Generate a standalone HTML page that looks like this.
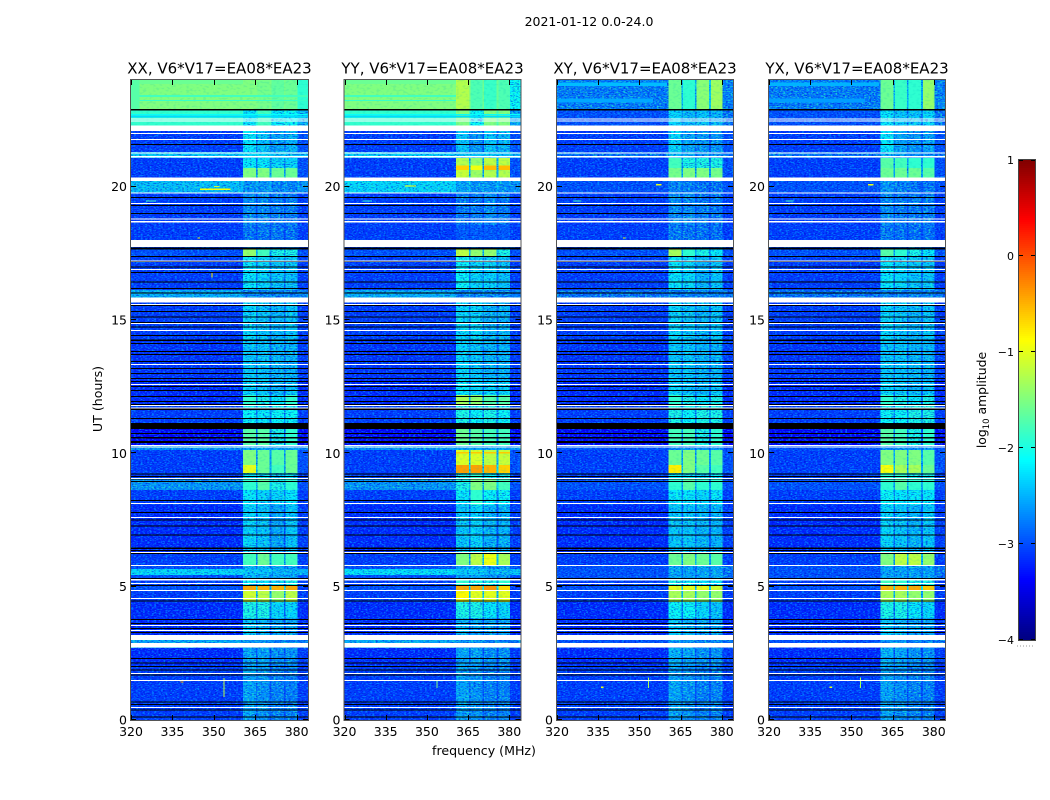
<!DOCTYPE html>
<html>
<head>
<meta charset="utf-8">
<title>2021-01-12 amplitude waterfall</title>
<style>
html,body{margin:0;padding:0;background:#fff;width:1050px;height:800px;overflow:hidden}
svg{display:block}
text{font-family:"DejaVu Sans","Liberation Sans",sans-serif;fill:#000}
</style>
</head>
<body>
<svg id="fig" xmlns="http://www.w3.org/2000/svg" width="1050" height="800" viewBox="0 0 1050 800">
<defs>
<filter id="speckLight" x="0" y="0" width="100%" height="100%" color-interpolation-filters="sRGB">
<feTurbulence type="fractalNoise" baseFrequency="0.44 0.85" numOctaves="1" seed="4"/>
<feColorMatrix type="matrix" values="0 0 0 0 0  0 0 0 0 0.72  0 0 0 0 1  7 0 0 0 -3.5"/>
</filter>
<filter id="speckDark" x="0" y="0" width="100%" height="100%" color-interpolation-filters="sRGB">
<feTurbulence type="fractalNoise" baseFrequency="0.46 0.9" numOctaves="1" seed="11"/>
<feColorMatrix type="matrix" values="0 0 0 0 0  0 0 0 0 0  0 0 0 0 0.8  7 0 0 0 -3.6"/>
</filter>
<filter id="speckGreen" x="0" y="0" width="100%" height="100%" color-interpolation-filters="sRGB">
<feTurbulence type="fractalNoise" baseFrequency="0.42 0.8" numOctaves="1" seed="23"/>
<feColorMatrix type="matrix" values="0 0 0 0 0.15  0 0 0 0 1  0 0 0 0 0.75  7 0 0 0 -3.7"/>
</filter>
<filter id="speckSoft" x="0" y="0" width="100%" height="100%" color-interpolation-filters="sRGB">
<feTurbulence type="fractalNoise" baseFrequency="0.3 0.5" numOctaves="1" seed="31"/>
<feColorMatrix type="matrix" values="0 0 0 0 0  0 0 0 0 0.75  0 0 0 0 0.75  6 0 0 0 -3"/>
</filter>
</defs>
<text x="589" y="26" font-size="12.5" text-anchor="middle">2021-01-12 0.0-24.0</text>
<text x="102" y="399" font-size="12.6" text-anchor="middle" transform="rotate(-90 102 399)">UT (hours)</text>
<text x="484" y="755" font-size="12.6" text-anchor="middle">frequency (MHz)</text>
<text x="986" y="400" font-size="12.4" text-anchor="middle" transform="rotate(-90 986 400)">log<tspan font-size="8.5" dy="3">10</tspan><tspan dy="-3"> amplitude</tspan></text>
<g id="panels"></g>
<g id="cbar"></g>
</svg>
<script>
// ---- data (hours, MHz, log10 amplitude) ----
const freqTicks = [320, 335, 350, 365, 380];
const timeTicks = [0, 5, 10, 15, 20];
const colorTicks = [1, 0, -1, -2, -3, -4];
const colorTickLabels = ['1', '0', '\u22121', '\u22122', '\u22123', '\u22124'];
const panelTitles = ['XX, V6*V17=EA08*EA23', 'YY, V6*V17=EA08*EA23', 'XY, V6*V17=EA08*EA23', 'YX, V6*V17=EA08*EA23'];
// frequency columns: background, band1, gap, band2, gap, band3, gap, band4, upper edge
const freqEdges = [320, 360.6, 365.3, 365.9, 370.2, 370.8, 375.4, 376, 380.3, 384.1];
// time blocks, newest first
const blockEdges = [24,22.91,22.28,21.3,21.08,20.7,20.33,19.76,18.56,17.7,17.4,16.13,15.83,14.25,12.75,12.19,11.81,11.06,10.31,10.13,9.56,9.26,9.08,8.63,8.06,6.3,5.78,5.66,5.44,5.33,5.03,4.88,4.43,3.83,3.19,2.7,2.06,0];
// each row: bg, band1, band2, band3, band4, edge
const xxLevels = [
[-1.5,-1.5,-1.55,-1.65,-1.6,-1.9],[-1.88,-2.2,-1.8,-2.2,-2.1,-2.5],[-3.1,-2.2,-2.4,-2.6,-2.5,-3.0],[-2.4,-2.3,-2.3,-2.4,-2.4,-2.4],
[-3.1,-2.2,-2.2,-2.3,-2.3,-3.0],[-3.1,-1.5,-1.5,-1.6,-1.6,-3.0],[-2.45,-2.7,-2.7,-2.8,-2.8,-2.7],[-3.1,-2.75,-2.75,-2.85,-2.85,-3.1],
[-3.1,-2.9,-2.9,-2.9,-2.9,-3.1],[-3.0,-1.4,-1.8,-2.0,-2.0,-3.0],[-3.1,-2.2,-2.3,-2.4,-2.4,-3.1],[-2.55,-2.8,-2.8,-2.8,-2.8,-2.8],
[-3.1,-2.3,-2.4,-2.5,-2.4,-3.1],[-3.15,-2.4,-2.4,-2.5,-2.5,-3.1],[-3.2,-2.3,-2.4,-2.5,-2.4,-3.2],[-3.2,-1.9,-2.0,-2.2,-1.9,-3.2],
[-3.1,-2.1,-2.2,-2.1,-2.1,-3.1],[-3.4,-1.7,-1.7,-2.0,-1.9,-3.4],[-2.7,-2.6,-2.6,-2.6,-2.6,-2.7],[-3.1,-1.5,-1.6,-1.7,-1.6,-3.0],
[-3.1,-1.0,-1.6,-1.8,-1.6,-3.0],[-3.1,-2.2,-2.2,-2.3,-2.2,-3.1],[-2.7,-1.9,-1.7,-2.0,-1.9,-3.0],[-3.1,-2.2,-2.3,-2.3,-2.2,-3.1],
[-3.2,-2.3,-2.4,-2.6,-2.4,-3.1],[-3.1,-1.8,-1.6,-1.8,-1.8,-3.1],[-3.0,-2.5,-2.5,-2.6,-2.6,-3.0],[-2.3,-2.4,-2.4,-2.5,-2.5,-2.5],[-3.0,-2.5,-2.5,-2.6,-2.6,-3.0],[-3.1,-2.1,-2.2,-2.3,-2.0,-3.1],
[-3.0,-0.45,-0.5,-0.5,-0.45,-3.1],[-3.1,-1.1,-1.2,-1.4,-1.2,-3.1],[-3.2,-2.0,-2.0,-2.3,-2.3,-3.2],[-3.2,-2.4,-2.5,-2.6,-2.6,-3.2],
[-2.6,-2.7,-2.7,-2.8,-2.8,-2.8],[-3.2,-2.6,-2.6,-2.7,-2.7,-3.1],[-3.1,-2.6,-2.7,-2.8,-2.8,-3.1]];
const yyLevels = [
[-1.5,-1.25,-1.75,-1.85,-1.75,-2.1],[-1.88,-1.5,-2.1,-1.5,-1.5,-2.6],[-3.1,-2.4,-2.7,-2.4,-2.5,-3.0],[-2.35,-2.4,-2.4,-2.4,-2.4,-2.5],
[-3.1,-1.25,-1.4,-1.2,-1.2,-3.0],[-3.1,-1.15,-1.35,-1.25,-1.25,-3.0],[-2.3,-2.6,-2.7,-2.7,-2.7,-2.7],[-3.1,-2.85,-2.85,-2.75,-2.85,-3.1],
[-3.1,-2.95,-2.95,-2.95,-2.95,-3.1],[-3.0,-1.2,-1.4,-1.4,-2.0,-3.0],[-3.1,-2.1,-2.3,-2.3,-2.4,-3.1],[-2.55,-2.8,-2.8,-2.8,-2.8,-2.8],
[-3.1,-2.3,-2.3,-2.5,-2.5,-3.1],[-3.15,-2.3,-2.4,-2.5,-2.5,-3.1],[-3.2,-2.2,-2.3,-2.3,-2.3,-3.2],[-3.2,-1.3,-1.4,-1.7,-1.7,-3.2],
[-3.1,-2.0,-2.1,-2.0,-2.1,-3.1],[-3.4,-1.6,-1.7,-1.8,-1.8,-3.4],[-2.7,-2.6,-2.6,-2.6,-2.6,-2.7],[-3.1,-1.05,-1.05,-1.2,-1.15,-3.0],
[-3.1,-0.4,-0.4,-0.5,-0.65,-3.0],[-3.1,-2.0,-1.9,-2.1,-2.0,-3.1],[-2.7,-2.0,-1.5,-1.5,-1.8,-3.0],[-3.1,-2.2,-1.9,-2.1,-2.1,-3.1],
[-3.2,-2.4,-2.3,-2.5,-2.5,-3.1],[-3.1,-1.5,-1.2,-0.95,-1.3,-3.1],[-3.0,-2.6,-2.6,-2.7,-2.7,-3.0],[-2.25,-2.4,-2.4,-2.5,-2.5,-2.4],[-3.0,-2.6,-2.6,-2.7,-2.7,-3.0],[-3.1,-1.9,-2.0,-2.0,-1.9,-3.1],
[-3.0,-0.45,-0.45,-0.35,-0.7,-3.1],[-3.1,-0.85,-1.0,-1.0,-1.0,-3.1],[-3.2,-2.0,-2.0,-2.2,-2.3,-3.2],[-3.2,-2.5,-2.6,-2.6,-2.6,-3.2],
[-2.6,-2.7,-2.7,-2.8,-2.8,-2.8],[-3.2,-2.6,-2.6,-2.7,-2.7,-3.1],[-3.1,-2.6,-2.7,-2.8,-2.8,-3.1]];
const xyLevels = [
[-2.85,-1.6,-1.9,-1.45,-1.35,-2.8],[-3.0,-2.3,-2.5,-2.4,-2.5,-2.9],[-3.1,-2.3,-2.6,-2.7,-2.7,-3.0],[-2.9,-2.5,-2.6,-2.7,-2.7,-2.9],
[-3.1,-1.8,-2.0,-2.0,-2.0,-3.0],[-3.1,-1.55,-1.5,-1.5,-1.55,-3.0],[-3.0,-2.8,-2.8,-2.9,-2.9,-3.0],[-3.1,-2.75,-2.75,-2.85,-2.85,-3.1],
[-3.1,-2.85,-2.9,-2.9,-2.9,-3.1],[-3.0,-1.3,-1.9,-2.0,-2.2,-3.0],[-3.1,-2.2,-2.3,-2.5,-2.4,-3.1],[-2.9,-2.8,-2.8,-2.8,-2.8,-2.9],
[-3.1,-2.3,-2.4,-2.5,-2.4,-3.1],[-3.15,-2.4,-2.4,-2.5,-2.5,-3.1],[-3.2,-2.3,-2.4,-2.5,-2.4,-3.2],[-3.2,-1.9,-2.0,-2.2,-2.0,-3.2],
[-3.1,-2.0,-2.1,-2.0,-2.0,-3.1],[-3.4,-1.8,-1.8,-2.0,-1.9,-3.4],[-3.0,-2.8,-2.7,-2.7,-2.7,-3.0],[-3.1,-1.6,-1.5,-1.6,-1.7,-3.0],
[-3.1,-0.8,-1.5,-1.7,-1.8,-3.0],[-3.1,-2.2,-2.2,-2.3,-2.2,-3.1],[-3.0,-1.9,-1.7,-1.9,-1.9,-3.0],[-3.1,-2.2,-2.2,-2.3,-2.2,-3.1],
[-3.2,-2.4,-2.4,-2.5,-2.5,-3.1],[-3.1,-1.6,-1.5,-1.6,-1.7,-3.1],[-3.0,-2.6,-2.6,-2.6,-2.6,-2.9],[-3.0,-2.6,-2.6,-2.6,-2.6,-2.9],[-3.0,-2.6,-2.6,-2.6,-2.6,-2.9],[-3.1,-2.0,-2.1,-2.2,-2.2,-3.1],
[-3.0,-1.0,-1.0,-1.0,-1.1,-3.1],[-3.1,-1.3,-1.3,-1.4,-1.4,-3.1],[-3.2,-2.1,-2.1,-2.3,-2.4,-3.2],[-3.2,-2.4,-2.5,-2.6,-2.6,-3.2],
[-3.0,-2.7,-2.7,-2.8,-2.8,-2.9],[-3.2,-2.5,-2.6,-2.7,-2.7,-3.1],[-3.1,-2.6,-2.7,-2.8,-2.8,-3.1]];
const yxLevels = [
[-2.85,-1.6,-1.85,-1.9,-1.4,-2.8],[-3.0,-2.2,-2.4,-2.4,-2.3,-2.9],[-3.1,-2.2,-2.6,-2.7,-2.6,-3.0],[-2.9,-2.5,-2.6,-2.7,-2.7,-2.9],
[-3.1,-1.7,-1.8,-1.9,-1.9,-3.0],[-3.1,-1.6,-1.6,-1.6,-1.7,-3.0],[-3.0,-2.7,-2.8,-2.9,-2.9,-3.0],[-3.1,-2.75,-2.85,-2.85,-2.85,-3.1],
[-3.1,-2.85,-2.9,-2.9,-2.9,-3.1],[-3.0,-1.7,-1.9,-2.0,-2.2,-3.0],[-3.1,-2.2,-2.3,-2.4,-2.4,-3.1],[-2.9,-2.8,-2.8,-2.8,-2.8,-2.9],
[-3.1,-2.3,-2.4,-2.5,-2.4,-3.1],[-3.15,-2.4,-2.4,-2.5,-2.5,-3.1],[-3.2,-2.3,-2.4,-2.5,-2.4,-3.2],[-3.2,-1.9,-2.0,-2.2,-2.0,-3.2],
[-3.1,-2.1,-2.1,-2.0,-2.0,-3.1],[-3.4,-1.7,-1.8,-2.0,-1.9,-3.4],[-3.0,-2.8,-2.7,-2.7,-2.7,-3.0],[-3.1,-1.5,-1.5,-1.5,-1.7,-3.0],
[-3.1,-0.9,-1.3,-1.3,-1.6,-3.0],[-3.1,-1.9,-1.9,-2.0,-2.0,-3.1],[-3.0,-1.9,-1.7,-1.9,-1.9,-3.0],[-3.1,-2.1,-2.2,-2.2,-2.2,-3.1],
[-3.2,-2.3,-2.4,-2.5,-2.4,-3.1],[-3.1,-1.5,-1.2,-1.2,-1.4,-3.1],[-3.0,-2.6,-2.6,-2.6,-2.6,-2.9],[-3.0,-2.6,-2.6,-2.6,-2.6,-2.9],[-3.0,-2.6,-2.6,-2.6,-2.6,-2.9],[-3.1,-1.8,-1.9,-2.0,-2.0,-3.1],
[-3.0,-0.5,-0.5,-0.45,-0.6,-3.1],[-3.1,-1.3,-1.3,-1.4,-1.4,-3.1],[-3.2,-2.0,-2.0,-2.2,-2.3,-3.2],[-3.2,-2.4,-2.5,-2.6,-2.6,-3.2],
[-3.0,-2.7,-2.7,-2.8,-2.8,-2.9],[-3.2,-2.5,-2.6,-2.7,-2.7,-3.1],[-3.1,-2.6,-2.7,-2.8,-2.8,-3.1]];
// flagged integrations (white = no data), [from, to] in hours
const whiteBands = [[22.52,22.56],[22.46,22.49],[22.09,22.29],[21.99,22.01],[21.76,21.79],[21.25,21.29],[21.09,21.15],[20.21,20.34],[19.74,19.78],[19.36,19.39],[18.76,18.80],[18.65,18.71],[17.74,18.0],[17.21,17.24],[16.89,16.91],[15.66,15.85],[15.57,15.6],[14.86,14.89],[14.6,14.63],[13.32,13.35],[12.57,12.6],[11.79,11.81],[11.69,11.71],[10.29,10.31],[10.24,10.26],[9.05,9.08],[8.11,8.14],[7.59,7.61],[6.26,6.3],[5.79,5.81],[5.24,5.29],[5.11,5.14],[4.85,4.875],[4.55,4.57],[3.54,3.56],[3.36,3.38],[3.0,3.18],[2.71,2.88],[1.74,1.76],[1.47,1.5],[0.46,0.49]];
// zero-amplitude integrations (black)
const blackBands = [[22.86,22.91],[21.56,21.6],[19.58,19.61],[19.28,19.31],[18.98,19.01],[17.64,17.72],[17.36,17.4],[17.18,17.21],[16.97,17.0],[16.76,16.8],[16.41,16.44],[16.16,16.2],[15.99,16.03],[15.53,15.58],[15.3,15.34],[15.1,15.13],[14.89,14.92],[14.72,14.76],[14.4,14.44],[14.21,14.27],[14.1,14.14],[13.8,13.84],[13.69,13.72],[13.43,13.46],[13.16,13.2],[12.97,13.01],[12.79,12.83],[12.68,12.71],[12.49,12.53],[12.34,12.38],[12.11,12.15],[11.93,11.96],[11.79,11.85],[11.63,11.68],[11.29,11.33],[10.91,11.14],[10.73,10.76],[10.56,10.61],[10.39,10.46],[9.2,9.24],[9.12,9.15],[9.02,9.06],[8.93,8.96],[8.21,8.25],[7.76,7.8],[7.48,7.52],[7.26,7.3],[6.92,6.96],[6.42,6.46],[6.33,6.37],[6.23,6.26],[5.3,5.33],[5.03,5.07],[4.44,4.48],[3.76,3.79],[3.61,3.64],[3.42,3.45],[3.27,3.3],[2.3,2.33],[2.13,2.16],[1.99,2.02],[1.87,1.9],[1.67,1.7],[0.65,0.69],[0.56,0.6],[0.36,0.39],[0.11,0.14]];
// narrow features and streaks: f0, f1, t0, t1, level
const xxRfi = [[320,360.6,23.85,24,-1.6],[320,384,23.36,23.44,-1.8],[320,384,23.21,23.25,-1.85],[320,323,22.91,24,-1.7],[320,384,22.6,22.66,-2.3],[320,384,22.68,22.72,-2.1],[345,356,19.88,19.93,-0.9],[350,352,19.98,20.02,-1.1],[325.5,329,19.44,19.49,-1.8],[353.5,353.9,0.86,1.58,-1.2],[338,339,1.4,1.45,-0.4],[349.2,349.6,16.6,16.8,-0.9],[344,345,18.05,18.1,-1.0]];
const yyRfi = [[320,360.6,23.85,24,-1.6],[320,360.6,23.36,23.44,-1.8],[320,360.6,23.21,23.25,-1.85],[320,384,22.6,22.66,-2.3],[320,384,22.68,22.72,-2.1],[360.6,365.3,20.62,20.8,-0.65],[365.9,370.2,20.62,20.8,-0.95],[370.8,375.4,20.62,20.8,-0.55],[376,380.3,20.62,20.8,-0.55],[360.6,365.3,10.0,10.05,-0.6],[365.9,370.2,10.0,10.05,-0.6],[370.8,375.4,10.0,10.05,-0.6],[376,380.3,10.0,10.05,-0.6],[342,346,20.0,20.05,-0.9],[326.5,330,19.44,19.49,-1.9],[353.5,353.9,1.2,1.5,-1.5]];
const xyRfi = [[320,360,23.78,23.9,-2.45],[320,355,23.15,23.3,-2.55],[356,358,20.05,20.1,-1.0],[326,329,19.44,19.49,-1.8],[353.1,353.5,1.2,1.6,-1.3],[344,345,18.05,18.1,-1.0],[336,337,1.2,1.25,-1.0]];
const yxRfi = [[320,360,23.78,23.9,-2.5],[320,355,23.15,23.3,-2.6],[356,358,20.05,20.1,-1.0],[326,329,19.44,19.49,-1.8],[353.1,353.5,1.2,1.6,-1.3],[342,343,1.2,1.25,-1.0]];
const levelTables = [xxLevels, yyLevels, xyLevels, yxLevels];
const rfiTables = [xxRfi, yyRfi, xyRfi, yxRfi];

// ---- layout ----
const SVGNS = 'http://www.w3.org/2000/svg';
const panelLeft = [131, 344.5, 557, 769];
const panelWidth = [177, 176, 176, 176];
const plotTop = 80, plotBottom = 720;
const timeMax = 24, freqMin = 320, freqMax = 384.1;
const levelMin = -4, levelMax = 1;
const speckleCeiling = -1.9, bandFloor = -2.95;
const cbarTop = 160, cbarBottom = 640, cbarLeft = 1019, cbarRight = 1035;

function yOf(t){ return plotBottom - (t / timeMax) * (plotBottom - plotTop); }
function xOf(f, p){ return panelLeft[p] + (f - freqMin) / (freqMax - freqMin) * panelWidth[p]; }
function cbarY(v){ return cbarBottom - (v - levelMin) / (levelMax - levelMin) * (cbarBottom - cbarTop); }
function jet(v){
  const f = Math.max(0, Math.min(1, (v - levelMin) / (levelMax - levelMin)));
  const ramp = (a) => Math.max(0, Math.min(1, 1.5 - Math.abs(4 * f - a)));
  return 'rgb(' + Math.round(ramp(3) * 255) + ',' + Math.round(ramp(2) * 255) + ',' + Math.round(ramp(1) * 255) + ')';
}
function mk(tag, attrs, parent){
  const el = document.createElementNS(SVGNS, tag);
  for (const k in attrs) el.setAttribute(k, attrs[k]);
  parent.appendChild(el);
  return el;
}
function columnValues(row){
  const gap = (a) => row[0] * 0.68 + a * 0.32;
  return [row[0], row[1], gap(row[1]), row[2], gap(row[2]), row[3], gap(row[3]), row[4], row[5]];
}

const panelsRoot = document.getElementById('panels');
const defsRoot = document.querySelector('#fig defs');
panelTitles.forEach((title, p) => {
  const group = mk('g', {}, panelsRoot);
  
  

  const x0 = panelLeft[p], w = panelWidth[p], h = plotBottom - plotTop;
  const rows = levelTables[p];
  const lowClip = mk('clipPath', {id: 'low-' + p}, defsRoot);
  const bandClip = mk('clipPath', {id: 'band-' + p}, defsRoot);
  const highClip = mk('clipPath', {id: 'high-' + p}, defsRoot);

  // heatmap cells
  rows.forEach((row, r) => {
    const vals = columnValues(row);
    const yTop = yOf(blockEdges[r]);
    const yBot = yOf(blockEdges[r + 1]);
    vals.forEach((v, c) => {
      const xa = xOf(freqEdges[c], p);
      const xb = xOf(freqEdges[c + 1], p);
      const cell = mk('rect', {x: xa, y: yTop, width: xb - xa, height: yBot - yTop, fill: jet(v), 'shape-rendering': 'crispEdges'}, group);
      
      
      const box = {x: xa, y: yTop, width: xb - xa, height: yBot - yTop};
      if (v < speckleCeiling) mk('rect', box, lowClip); else mk('rect', box, highClip);
      if (v < speckleCeiling && v > bandFloor) mk('rect', box, bandClip);
    });
  });

  // speckle texture (strong on the noisy low-amplitude cells, faint on bright ones)
  const speckA = mk('rect', {x: x0, y: plotTop, width: w, height: h, filter: 'url(#speckLight)', opacity: 0.52, 'clip-path': 'url(#low-' + p + ')'}, group);
  
  
  const speckB = mk('rect', {x: x0, y: plotTop, width: w, height: h, filter: 'url(#speckDark)', opacity: 0.45, 'clip-path': 'url(#low-' + p + ')'}, group);
  
  
  const speckC = mk('rect', {x: x0, y: plotTop, width: w, height: h, filter: 'url(#speckGreen)', opacity: 0.55, 'clip-path': 'url(#band-' + p + ')'}, group);
  
  
  const speckD = mk('rect', {x: x0, y: plotTop, width: w, height: h, filter: 'url(#speckSoft)', opacity: 0.14, 'clip-path': 'url(#high-' + p + ')'}, group);
  
  

  // narrow features and streaks
  rfiTables[p].forEach((s) => {
    const rfi = mk('rect', {x: xOf(s[0], p), y: yOf(s[3]), width: xOf(s[1], p) - xOf(s[0], p), height: Math.max(1, yOf(s[2]) - yOf(s[3])), fill: jet(s[4]), 'shape-rendering': 'crispEdges'}, group);
    
    
  });

  // black and white integrations
  blackBands.forEach((b) => {
    const band = mk('rect', {x: x0, y: yOf(b[1]), width: w, height: Math.max(1, yOf(b[0]) - yOf(b[1])), fill: '#000', 'shape-rendering': 'crispEdges'}, group);
    
    
  });
  whiteBands.forEach((b) => {
    const band = mk('rect', {x: x0, y: yOf(b[1]), width: w, height: Math.max(1, yOf(b[0]) - yOf(b[1])), fill: '#fff', 'shape-rendering': 'crispEdges'}, group);
    
    
  });

  // frame
  const frame = mk('rect', {x: x0 - 0.5, y: plotTop - 0.5, width: w + 1, height: h + 1, fill: 'none', stroke: '#555', 'stroke-width': 1}, group);
  
  

  // x ticks and labels
  freqTicks.forEach((f) => {
    const x = Math.round(xOf(f, p)) + 0.5;
    const tb = mk('line', {x1: x, x2: x, y1: plotBottom, y2: plotBottom - 5, stroke: '#000', 'stroke-width': 1}, group);
    
    
    const tt = mk('line', {x1: x, x2: x, y1: plotTop, y2: plotTop + 5, stroke: '#000', 'stroke-width': 1}, group);
    
    
    const label = mk('text', {x: xOf(f, p), y: 736, 'font-size': 12.5, 'text-anchor': 'middle'}, group);
    label.textContent = String(f);
    
    
  });

  // y ticks and labels
  timeTicks.forEach((t) => {
    const y = Math.round(yOf(t)) - 0.5;
    const tl = mk('line', {x1: x0, x2: x0 + 5, y1: y, y2: y, stroke: '#000', 'stroke-width': 1}, group);
    
    
    const tr = mk('line', {x1: x0 + w, x2: x0 + w - 5, y1: y, y2: y, stroke: '#000', 'stroke-width': 1}, group);
    
    
    const label = mk('text', {x: x0 - 4, y: yOf(t) + 4.5, 'font-size': 12.5, 'text-anchor': 'end'}, group);
    label.textContent = String(t);
    
    
  });

  // title
  const tEl = mk('text', {x: x0 + w / 2, y: 73.5, 'font-size': 15, 'text-anchor': 'middle'}, group);
  tEl.textContent = title;
  
  
});

// ---- colorbar ----
const cbarRoot = document.getElementById('cbar');
for (let i = 0; i < 240; i++) {
  const v = levelMin + (i + 0.5) / 240 * (levelMax - levelMin);
  const seg = mk('rect', {x: cbarLeft, y: cbarY(v) - 1.1, width: cbarRight - cbarLeft, height: 2.2, fill: jet(v), 'shape-rendering': 'crispEdges'}, cbarRoot);
  
  
}
const cbFrame = mk('rect', {x: cbarLeft - 0.5, y: cbarTop - 0.5, width: cbarRight - cbarLeft + 1, height: cbarBottom - cbarTop + 1, fill: 'none', stroke: '#444', 'stroke-width': 1}, cbarRoot);


colorTicks.forEach((v, i) => {
  const y = Math.round(cbarY(v)) + (v === levelMax ? 0.5 : -0.5);
  const a = mk('line', {x1: cbarLeft, x2: cbarLeft + 4, y1: y, y2: y, stroke: '#000', 'stroke-width': 1}, cbarRoot);
  
  
  const b = mk('line', {x1: cbarRight, x2: cbarRight - 4, y1: y, y2: y, stroke: '#000', 'stroke-width': 1}, cbarRoot);
  
  
  const label = mk('text', {x: 1014, y: cbarY(v) + 4, 'font-size': 11, 'text-anchor': 'end'}, cbarRoot);
  label.textContent = colorTickLabels[i];
  
  
});
const dots = mk('line', {x1: 1017, x2: 1035, y1: 646, y2: 646, stroke: '#999', 'stroke-width': 1, 'stroke-dasharray': '1 2'}, cbarRoot);


</script>
</body>
</html>
